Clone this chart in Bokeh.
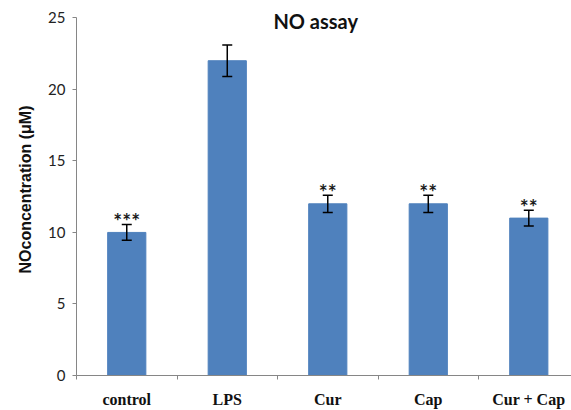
from bokeh.plotting import figure
from bokeh.models import ColumnDataSource, Whisker, TeeHead, FixedTicker, Label, Range1d, Title
from bokeh.embed import file_html
from bokeh.resources import INLINE
from bokeh.core.properties import value

categories = ["control", "LPS", "Cur", "Cap", "Cur + Cap"]
means = [10, 22, 12, 12, 11]
errors = [0.55, 1.1, 0.6, 0.6, 0.55]
stars = ["***", "", "**", "**", "**"]
y_ticks = [0, 5, 10, 15, 20, 25]
title_text = "NO assay"
y_label = "NOconcentration (\u03bcM)"

xs = [i + 0.5 for i in range(len(categories))]
src = ColumnDataSource(dict(
    x=xs, top=means, upper=[m + e for m, e in zip(means, errors)],
    lower=[m - e for m, e in zip(means, errors)], stars=stars))

p = figure(width=571, height=410, output_backend="svg", toolbar_location=None,
           x_range=Range1d(0, 4.925), y_range=Range1d(0, 26),
           min_border_left=76, min_border_right=0, min_border_top=3, min_border_bottom=34)
p.outline_line_color = None
p.xgrid.grid_line_color = None
p.ygrid.grid_line_color = None
p.background_fill_color = "white"

p.vbar(x="x", top="top", bottom=0, width=0.38, source=src,
       fill_color="#4F81BD", line_color="#4F81BD")

w = Whisker(base="x", upper="upper", lower="lower", source=src,
            line_color="black", line_width=1.5, level="annotation",
            upper_head=TeeHead(size=10, line_color="black", line_width=1.5),
            lower_head=TeeHead(size=10, line_color="black", line_width=1.5))
p.add_layout(w)

p.text(x="x", y="upper", text="stars", source=src, text_align="center",
       text_baseline="middle", y_offset=-4, text_font=value("Lato"),
       text_font_size="21px", text_font_style="bold", text_color="#1a1a1a")

# axes
ax = p.xaxis[0]
ax.ticker = FixedTicker(ticks=xs, minor_ticks=list(range(len(categories) + 1)))
ax.major_label_overrides = {x: c for x, c in zip(xs, categories)}
ax.major_tick_out = 0
ax.major_tick_in = 0
ax.minor_tick_out = 4
ax.minor_tick_in = 0
ax.minor_tick_line_color = "#868686"
ax.axis_line_color = "#868686"
ax.major_label_text_font = "Liberation Serif"
ax.major_label_text_font_style = "bold"
ax.major_label_text_font_size = "16px"
ax.major_label_text_color = "#111111"
ax.major_label_standoff = 11

ay = p.yaxis[0]
ay.ticker = FixedTicker(ticks=y_ticks, minor_ticks=[])
ay.bounds = (0, 25)
ay.major_tick_out = 4
ay.major_tick_in = 0
ay.major_tick_line_color = "#868686"
ay.axis_line_color = "#868686"
ay.major_label_text_font = "Lato"
ay.major_label_text_font_size = "15px"
ay.major_label_text_color = "#222222"
ay.major_label_standoff = 7

ylab = Title(text=y_label, align="center", offset=-9, standoff=23,
             text_font="Liberation Sans", text_font_style="bold",
             text_font_size="16px", text_color="#111111")
p.add_layout(ylab, "left")

p.add_layout(Label(x=2.38, y=24.75, text=title_text, text_align="center",
                   text_baseline="middle", text_font="Lato", text_font_style="bold",
                   text_font_size="20px", text_color="#111111"))

open("out.html", "w").write(file_html(p, INLINE))
